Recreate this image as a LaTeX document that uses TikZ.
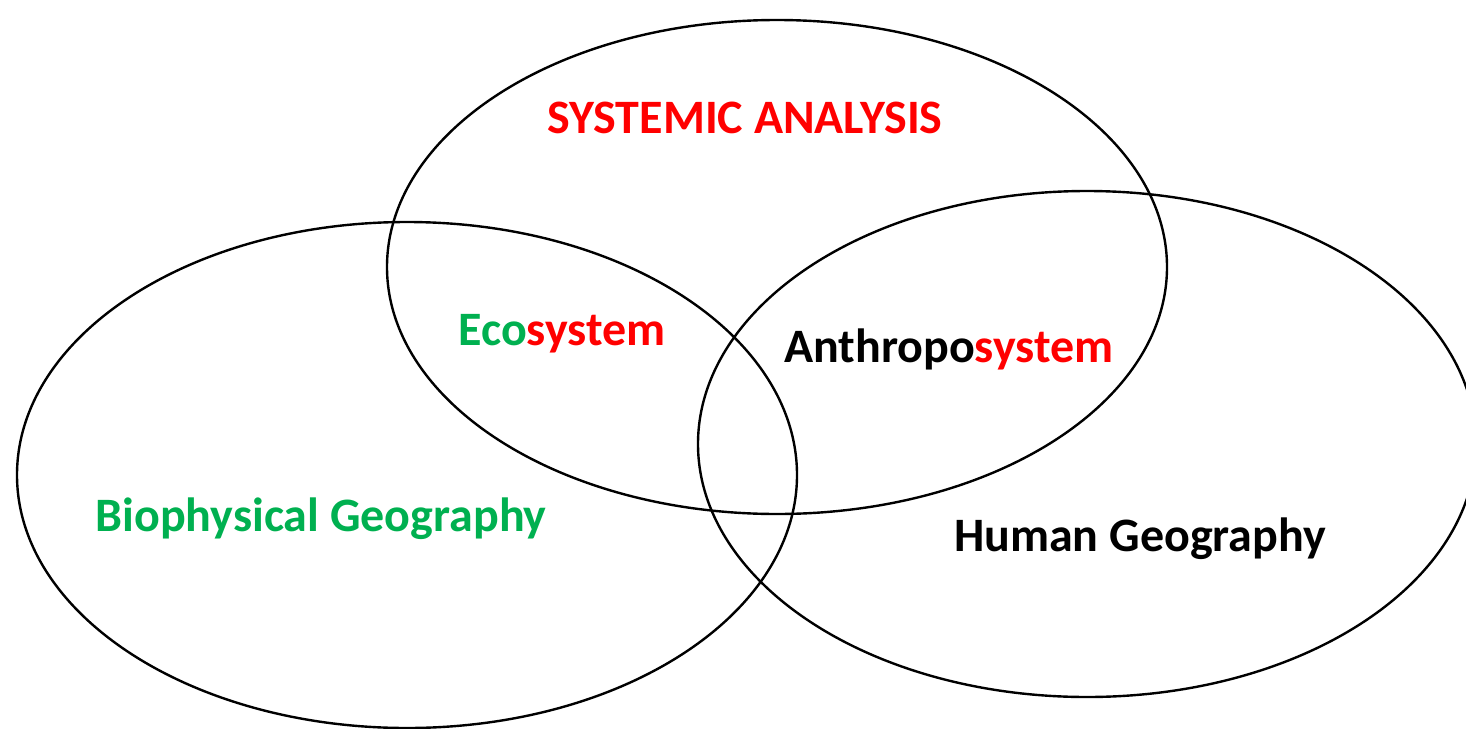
\documentclass[tikz,border=0pt]{standalone}
\usepackage{fontspec}
\setmainfont{Carlito}
\usetikzlibrary{shapes.geometric}
\pgfdeclarelayer{edgelayer}
\pgfdeclarelayer{nodelayer}
\pgfsetlayers{edgelayer,nodelayer,main}
\definecolor{offgreen}{RGB}{0,176,80}
\definecolor{offred}{RGB}{255,0,0}
\tikzstyle{none}=[inner sep=0pt]
\tikzstyle{label}=[inner sep=0pt,font=\fontsize{48}{56}\selectfont\bfseries]
\tikzstyle{title}=[inner sep=0pt,font=\fontsize{48}{56}\selectfont\bfseries,text=offred]
\tikzstyle{simple}=[-,draw=black,line width=2.4pt]

\begin{document}
\begin{tikzpicture}[x=1pt,y=-1pt]
	\useasboundingbox (0,0) rectangle (1466,728);
	\begin{pgfonlayer}{nodelayer}
		\node [style=none] (0) at (777, 267) {};
		\node [style=none] (1) at (407, 475) {};
		\node [style=none] (2) at (1087, 444) {};
		\node [style=title] (3) at (745, 118) {SYSTEMIC ANALYSIS};
		\node [style=label] (4) at (562, 334) {\textcolor{offgreen}{Eco}\textcolor{offred}{system}};
		\node [style=label] (5) at (949, 349) {Anthropo\textcolor{offred}{system}};
		\node [style=label, text=offgreen] (6) at (321, 519) {Biophysical Geography};
		\node [style=label] (7) at (1140, 539) {Human Geography};
	\end{pgfonlayer}
	\begin{pgfonlayer}{edgelayer}
		\draw [style=simple] (0.center) ellipse [x radius=390pt, y radius=247pt];
		\draw [style=simple] (1.center) ellipse [x radius=390pt, y radius=253pt];
		\draw [style=simple] (2.center) ellipse [x radius=389pt, y radius=253pt];
	\end{pgfonlayer}
\end{tikzpicture}
\end{document}
